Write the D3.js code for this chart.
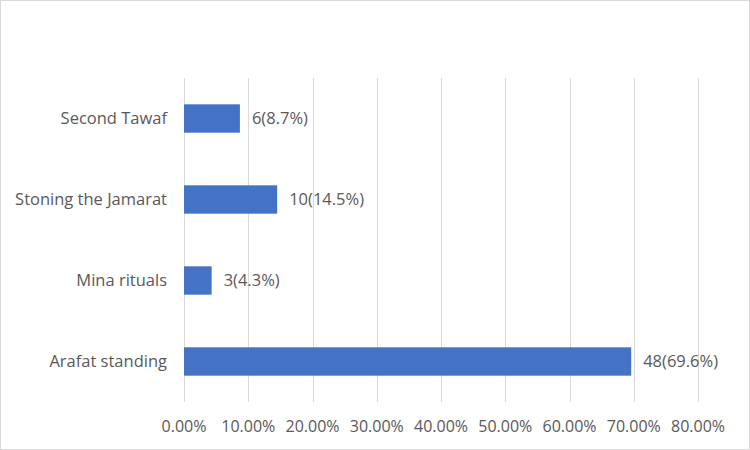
<!DOCTYPE html>
<html lang="en">
<head>
<meta charset="utf-8">
<title>Hajj rituals</title>
<script src="https://d3js.org/d3.v7.min.js"></script>
<style>
  body { margin: 0; background: #fff; }
  text { font-family: "Open Sans", "Noto Sans", sans-serif; fill: #595959; }
</style>
</head>
<body>
<script>
// data, listed top to bottom as drawn
let categories = ["Second Tawaf", "Stoning the Jamarat", "Mina rituals", "Arafat standing"];
let counts = [6, 10, 3, 48];
let percents = [8.7, 14.5, 4.3, 69.6];
let ticks = [0, 10, 20, 30, 40, 50, 60, 70, 80];

let w = 750, h = 450;
let margin = {top: 78, right: 52, bottom: 48, left: 184};

let svg = d3.select("body").append("svg")
    .attr("width", w)
    .attr("height", h);

// outer border
svg.append("rect")
    .attr("x", 0.5).attr("y", 0.5)
    .attr("width", w - 1).attr("height", h - 1)
    .attr("fill", "#fff")
    .attr("stroke", "#d9d9d9");

let xScale = d3.scaleLinear()
    .domain([0, 80])
    .range([margin.left, w - margin.right]);

let yScale = d3.scaleBand()
    .domain(categories)
    .range([margin.top, h - margin.bottom])
    .paddingInner(0.65)
    .paddingOuter(0.325);

// gridlines
svg.selectAll("line.grid")
    .data(ticks)
    .enter()
    .append("line")
    .attr("class", "grid")
    .attr("x1", d => Math.round(xScale(d)) + 0.5)
    .attr("x2", d => Math.round(xScale(d)) + 0.5)
    .attr("y1", margin.top)
    .attr("y2", h - margin.bottom)
    .attr("stroke", "#d9d9d9")
    .attr("stroke-width", 1);

// x tick labels
svg.selectAll("text.xtick")
    .data(ticks)
    .enter()
    .append("text")
    .attr("class", "xtick")
    .attr("x", d => xScale(d))
    .attr("y", 432)
    .attr("text-anchor", "middle")
    .style("font-size", "16px")
    .text(d => d.toFixed(2) + "%");

// bars
svg.selectAll("rect.bar")
    .data(categories)
    .enter()
    .append("rect")
    .attr("class", "bar")
    .attr("x", xScale(0))
    .attr("y", d => yScale(d))
    .attr("width", (d, i) => xScale(percents[i]) - xScale(0))
    .attr("height", yScale.bandwidth())
    .attr("fill", "#4472c4");

// category labels
svg.selectAll("text.cat")
    .data(categories)
    .enter()
    .append("text")
    .attr("class", "cat")
    .attr("x", margin.left - 17)
    .attr("y", d => yScale(d) + yScale.bandwidth() / 2)
    .attr("dy", "0.35em")
    .attr("text-anchor", "end")
    .style("font-size", "16.5px")
    .text(d => d);

// data labels
svg.selectAll("text.val")
    .data(categories)
    .enter()
    .append("text")
    .attr("class", "val")
    .attr("x", (d, i) => xScale(percents[i]) + 12)
    .attr("y", d => yScale(d) + yScale.bandwidth() / 2)
    .attr("dy", "0.35em")
    .style("font-size", "16.5px")
    .text((d, i) => counts[i] + "(" + percents[i] + "%)");
</script>
</body>
</html>
